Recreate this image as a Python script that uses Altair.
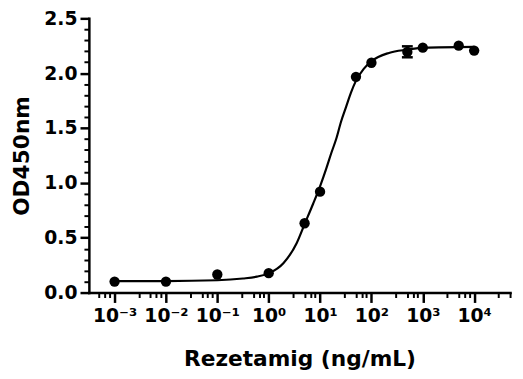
import altair as alt
import pandas as pd

# Measured points (ng/mL, OD450nm)
conc = [0.001, 0.01, 0.1, 1, 5, 10, 50, 100, 500, 1000, 5000, 10000]
od = [0.10, 0.10, 0.165, 0.177, 0.632, 0.92, 1.967, 2.095, 2.194, 2.233, 2.251, 2.206]

# Error bar (only visible one)
err_conc = [500]
err_low = [2.145]
err_high = [2.245]

# Fitted curve
curve_x = [0.001, 0.01, 0.1, 0.316, 0.589, 1.0, 1.95, 3.5, 5.06, 7.33, 10.2, 13.2,
           16.5, 20.6, 25.7, 32, 39.8, 49.9, 70.8, 101, 219, 501, 1060, 10000]
curve_y = [0.105, 0.105, 0.112, 0.128, 0.145, 0.175, 0.27, 0.45, 0.63, 0.81, 0.98, 1.13,
           1.27, 1.40, 1.56, 1.69, 1.82, 1.93, 2.04, 2.11, 2.185, 2.215, 2.233, 2.24]

x_major = [0.001, 0.01, 0.1, 1, 10, 100, 1000, 10000]
x_labels = ["10⁻³", "10⁻²", "10⁻¹", "10⁰", "10¹", "10²", "10³", "10⁴"]
x_minor_mult = [3, 5, 6.5, 8]
y_major = [0, 0.5, 1.0, 1.5, 2.0, 2.5]
y_minor = [round(i * 0.1, 1) for i in range(26) if i % 5 != 0]

x_domain = [3.16e-4, 5e4]
y_domain = [0, 2.5]

x_minor = []
for d in range(-4, 5):
    for k in x_minor_mult:
        v = k * 10 ** d
        if x_domain[0] <= v <= x_domain[1]:
            x_minor.append(v)

pts = pd.DataFrame({"conc": conc, "od": od})
curve = pd.DataFrame({"conc": curve_x, "od": curve_y})
err = pd.DataFrame({"conc": err_conc, "lo": err_low, "hi": err_high})
caps = pd.DataFrame({"conc": err_conc * 2, "od": err_low + err_high})

W, H = 427, 278
FONT = "DejaVu Sans"
xs = alt.Scale(type="log", domain=x_domain, nice=False)
ys = alt.Scale(domain=y_domain, nice=False, zero=False)

label_arr = "[" + ",".join("'%s'" % s for s in x_labels) + "]"
x_axis_major = alt.Axis(
    values=x_major, orient="bottom",
    labelExpr=label_arr + "[round(log(datum.value)/LN10)+3]",
    title="Rezetamig (ng/mL)", tickSize=10, tickWidth=2.5, domainWidth=2.5,
    domainCap="square", labelPadding=4, labelFontSize=19, titleFontSize=22,
    titlePadding=24, grid=False, labelFlush=False, labelOverlap=False,
)
y_axis_major = alt.Axis(
    values=y_major, orient="left", format=".1f", title="OD450nm",
    tickSize=9, tickWidth=2.5, domainWidth=2.5, domainCap="square",
    labelPadding=3, labelFontSize=19, titleFontSize=22, titlePadding=11,
    grid=False, labelFlush=False, labelOverlap=False,
)
x_axis_minor = alt.Axis(values=x_minor, orient="bottom", labels=False, title=None,
                        tickSize=5, tickWidth=2, domain=False, grid=False)
y_axis_minor = alt.Axis(values=y_minor, orient="left", labels=False, title=None,
                        tickSize=5, tickWidth=2, domain=False, grid=False)

line = alt.Chart(curve).mark_line(color="black", strokeWidth=2.2, interpolate="monotone").encode(
    x=alt.X("conc:Q", scale=xs, axis=x_axis_major),
    y=alt.Y("od:Q", scale=ys, axis=y_axis_major),
)
minor = alt.Chart(pts).mark_point(opacity=0).encode(
    x=alt.X("conc:Q", scale=xs, axis=x_axis_minor),
    y=alt.Y("od:Q", scale=ys, axis=y_axis_minor),
)
rule = alt.Chart(err).mark_rule(color="black", strokeWidth=2.5, opacity=1).encode(
    x=alt.X("conc:Q", scale=xs, axis=None),
    y=alt.Y("lo:Q", scale=ys, axis=None),
    y2="hi:Q",
)
cap = alt.Chart(caps).mark_tick(color="black", orient="horizontal", size=11,
                                thickness=2.5, opacity=1).encode(
    x=alt.X("conc:Q", scale=xs, axis=None),
    y=alt.Y("od:Q", scale=ys, axis=None),
)
points = alt.Chart(pts).mark_circle(color="black", size=110, opacity=1).encode(
    x=alt.X("conc:Q", scale=xs, axis=None),
    y=alt.Y("od:Q", scale=ys, axis=None),
)

chart = alt.layer(line, minor, rule, cap, points).resolve_axis(
    x="independent", y="independent"
).properties(
    width=W, height=H,
    autosize=alt.AutoSizeParams(type="none"),
    padding={"left": 82, "top": 8, "right": 5, "bottom": 76},
).configure_view(stroke=None).configure_axis(
    labelFont=FONT, titleFont=FONT, labelFontWeight="bold", titleFontWeight="bold",
    labelColor="black", titleColor="black", domainColor="black", tickColor="black",
)

chart.save("out.html", embed_options={"renderer": "svg", "actions": False})
